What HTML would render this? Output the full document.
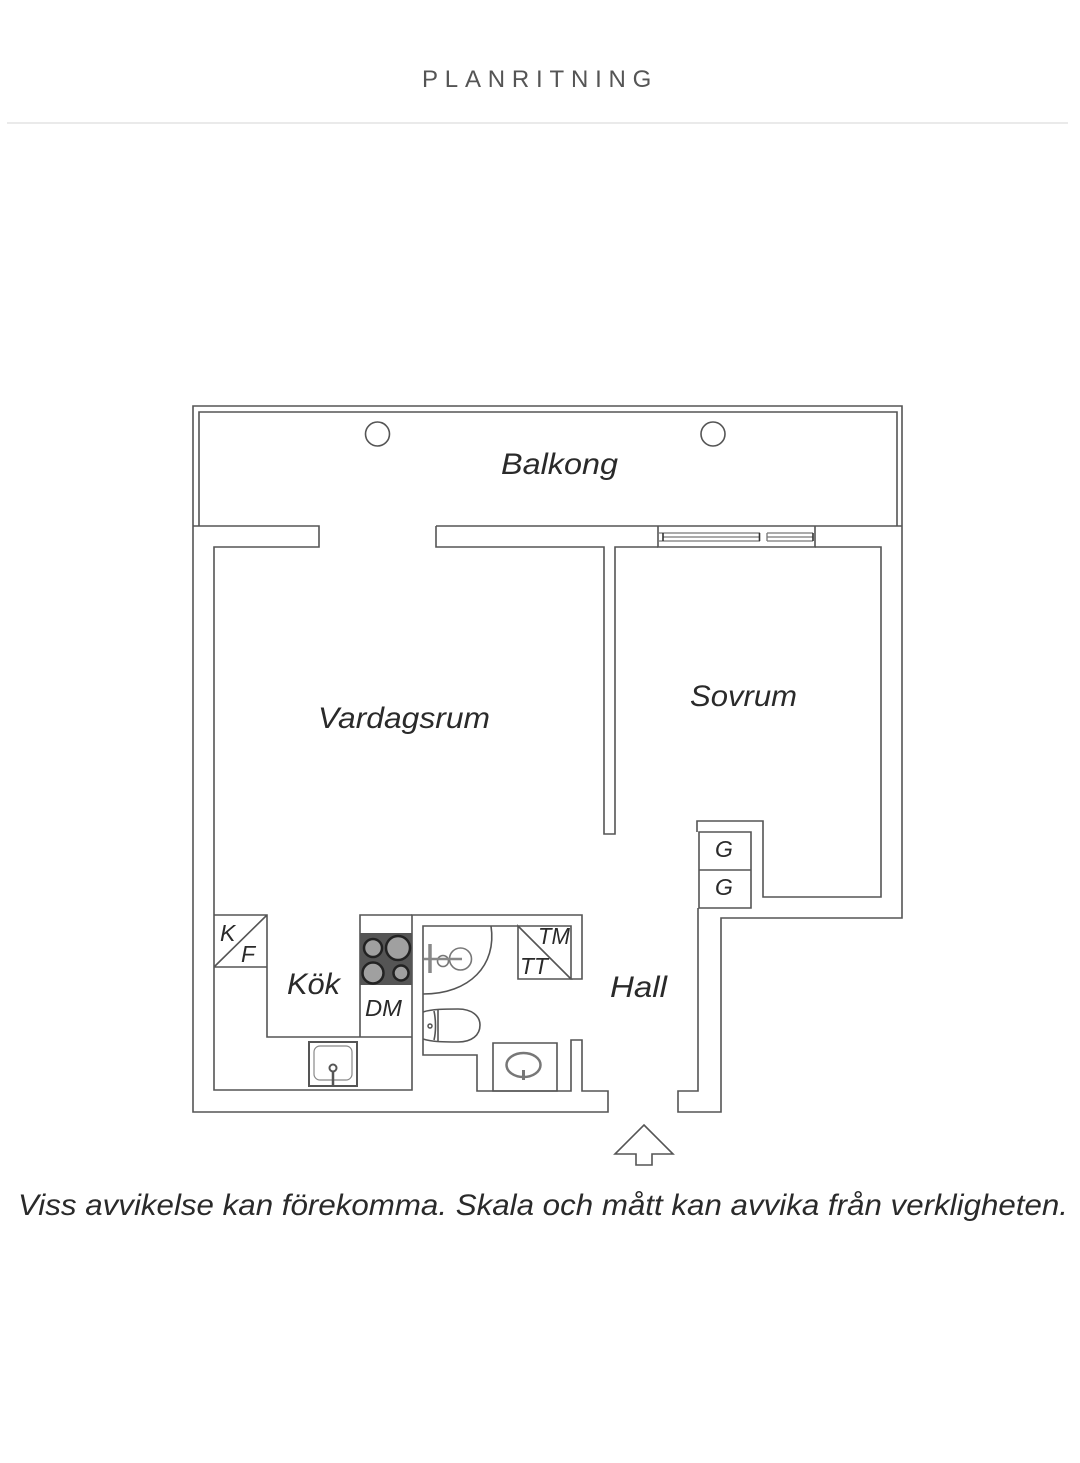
<!DOCTYPE html>
<html><head><meta charset="utf-8"><style>
html,body{margin:0;padding:0;background:#fff}
svg{display:block}
text{font-family:"Liberation Sans",sans-serif;font-style:italic;fill:#2a2a2a}
</style></head><body>
<svg width="1080" height="1463" viewBox="0 0 1080 1463" xmlns="http://www.w3.org/2000/svg">
<rect width="1080" height="1463" fill="#fff"/>
<text x="422" y="87" font-size="24" style="font-style:normal;fill:#555;letter-spacing:6.8px">PLANRITNING</text>
<line x1="7" y1="123" x2="1068" y2="123" stroke="#e3e3e3" stroke-width="1.5"/>
<g fill="none" stroke="#555" stroke-width="1.6">
<!-- outer wall -->
<path d="M193 526V406H902V918H721V1112H678V1091H698V908"/>
<path d="M193 526V1112H608V1091H582V1040H571V1091H477V1055H423V926H571V979H582V915H412V1090H214V547H319V526H193"/>
<path d="M199 526V412H897V526"/>
<path d="M436 526H902M436 526V547H604V834H615V547H658M815 547H881V897H763V821H697V832"/>
<path d="M658 526V547H815V526"/>
<!-- window -->
<path d="M658 533H760M767 533H813M658 541H760M767 541H813M663 537H760M767 537H813M767 533V541" stroke="#777" stroke-width="1.3"/>
<path d="M663 533V541M759.500 533V541M813 533V541" stroke="#333"/>
<!-- columns -->
<circle cx="377.500" cy="434" r="12"/>
<circle cx="713" cy="434" r="12"/>
<!-- closets -->
<path d="M699 832H751V908H699ZM699 870H751"/>
<!-- kitchen -->
<path d="M214 915H267V967H214M214 967L267 915M267 915V1037H412M360 1037V915H412"/>
<rect x="309" y="1042" width="48" height="44" stroke-width="2"/>
<rect x="314" y="1046" width="38" height="34" rx="6" stroke="#888" stroke-width="1.2"/>
<path d="M333 1072V1085" stroke-width="2.500"/>
<circle cx="333" cy="1068" r="3.500" stroke-width="2"/>
<!-- bathroom -->
<path d="M491 926C497 965 470 994 423 994"/>
<path d="M518 926V979H571ZM518 926L571 979"/>
<path d="M423 1012C432 1009 445 1009 458 1009C472 1009 480 1016 480 1025C480 1035 472 1042 458 1042C445 1042 432 1042 423 1039"/>
<path d="M434 1011C436 1020 436 1032 434 1040M438 1010V1041"/>
<circle cx="430" cy="1026" r="2" stroke-width="1.500"/>
<path d="M493 1043H557V1091H493Z"/>
<ellipse cx="523.500" cy="1065" rx="17" ry="12" stroke-width="2.500" stroke="#777"/>
<path d="M523.500 1070V1080" stroke-width="3" stroke="#777"/>
<circle cx="460.500" cy="959" r="11" stroke="#777"/>
<circle cx="443" cy="961" r="5.500" stroke="#777"/>
<path d="M424 959H462" stroke-width="2.500" stroke="#888"/>
<path d="M430 944V973" stroke-width="3.500" stroke="#888"/>
<!-- arrow -->
<path d="M644 1125L673 1154H652V1165H636V1154H615Z"/>
</g>
<!-- cooktop -->
<rect x="360" y="933" width="52" height="52" fill="#555"/>
<g stroke="#222" stroke-width="2.500" fill="#a0a0a0">
<circle cx="373" cy="948" r="9"/><circle cx="398" cy="948" r="12"/>
<circle cx="373" cy="973" r="10.500"/><circle cx="401" cy="973" r="7.500"/>
</g>
<text x="501" y="474" font-size="30" textLength="117" lengthAdjust="spacingAndGlyphs">Balkong</text>
<text x="318" y="728" font-size="30" textLength="172" lengthAdjust="spacingAndGlyphs">Vardagsrum</text>
<text x="690" y="706" font-size="30" textLength="107" lengthAdjust="spacingAndGlyphs">Sovrum</text>
<text x="287" y="994" font-size="30" textLength="53" lengthAdjust="spacingAndGlyphs">Kök</text>
<text x="610" y="997" font-size="30" textLength="57" lengthAdjust="spacingAndGlyphs">Hall</text>
<text x="365" y="1016" font-size="23" textLength="37" lengthAdjust="spacingAndGlyphs">DM</text>
<text x="220" y="941" font-size="23">K</text>
<text x="241" y="962" font-size="23">F</text>
<text x="715" y="857" font-size="23">G</text>
<text x="715" y="895" font-size="23">G</text>
<text x="538" y="944" font-size="23" textLength="32" lengthAdjust="spacingAndGlyphs">TM</text>
<text x="520" y="974" font-size="23" textLength="28" lengthAdjust="spacingAndGlyphs">TT</text>
<text x="18" y="1215" font-size="30" textLength="1050" lengthAdjust="spacingAndGlyphs">Viss avvikelse kan förekomma. Skala och mått kan avvika från verkligheten.</text>
</svg>
</body></html>
